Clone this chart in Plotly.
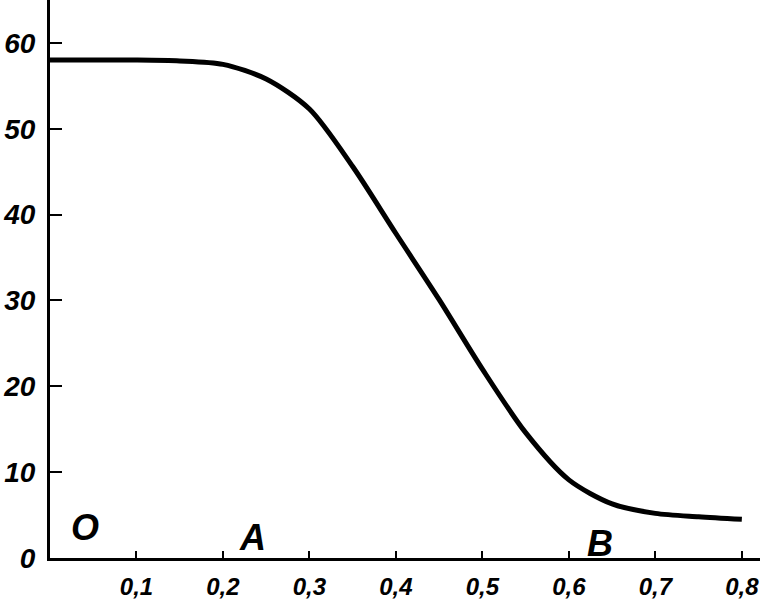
import plotly.graph_objects as go

# data
x_vals = [0.0, 0.05, 0.10, 0.15, 0.20, 0.25, 0.30, 0.35, 0.40, 0.45, 0.50, 0.55, 0.60, 0.65, 0.70, 0.75, 0.80]
y_vals = [58.0, 58.0, 58.0, 57.9, 57.5, 55.8, 52.3, 45.6, 37.8, 30.1, 22.0, 14.6, 9.1, 6.3, 5.2, 4.8, 4.5]

x_ticks = [0.1, 0.2, 0.3, 0.4, 0.5, 0.6, 0.7, 0.8]
x_tick_labels = ["0,1", "0,2", "0,3", "0,4", "0,5", "0,6", "0,7", "0,8"]
y_ticks = [0, 10, 20, 30, 40, 50, 60]
y_tick_labels = ["0", "10", "20", "30", "40", "50", "60"]

point_labels = ["О", "А", "В"]
point_x = [0.040, 0.234, 0.636]
point_y = [3.6, 2.4, 1.7]

font_family = "Liberation Sans Narrow, Liberation Sans, DejaVu Sans"

fig = go.Figure()
fig.add_trace(go.Scatter(
    x=x_vals, y=y_vals, mode="lines",
    line=dict(color="black", width=5, shape="spline", smoothing=0.8),
    showlegend=False, hoverinfo="skip",
))

for t, px, py in zip(point_labels, point_x, point_y):
    fig.add_annotation(x=px, y=py, text=t, showarrow=False,
                       font=dict(family=font_family, size=36, color="black",
                                 style="italic", weight="bold"))

fig.update_layout(
    width=760, height=608,
    margin=dict(l=50, r=0, t=0, b=50),
    paper_bgcolor="white", plot_bgcolor="white",
    xaxis=dict(range=[0, 0.821], showgrid=False, zeroline=False, automargin=False,
               showline=True, linecolor="black", linewidth=3,
               tickvals=x_ticks, ticktext=x_tick_labels,
               ticks="inside", ticklen=7, tickwidth=2, tickcolor="black",
               tickfont=dict(family=font_family, size=24, color="black",
                             style="italic", weight="bold"),
               ticklabelstandoff=5),
    yaxis=dict(range=[0, 65], showgrid=False, zeroline=False, automargin=False,
               showline=True, linecolor="black", linewidth=3,
               tickvals=y_ticks, ticktext=y_tick_labels,
               ticks="inside", ticklen=12, tickwidth=2, tickcolor="black",
               tickfont=dict(family=font_family, size=28, color="black",
                             style="italic", weight="bold"),
               ticklabelstandoff=6),
)

fig.write_html("out.html",
               config={"displayModeBar": False},
               post_script="document.body.style.margin='0';document.body.style.padding='0';document.body.style.overflow='hidden';")
